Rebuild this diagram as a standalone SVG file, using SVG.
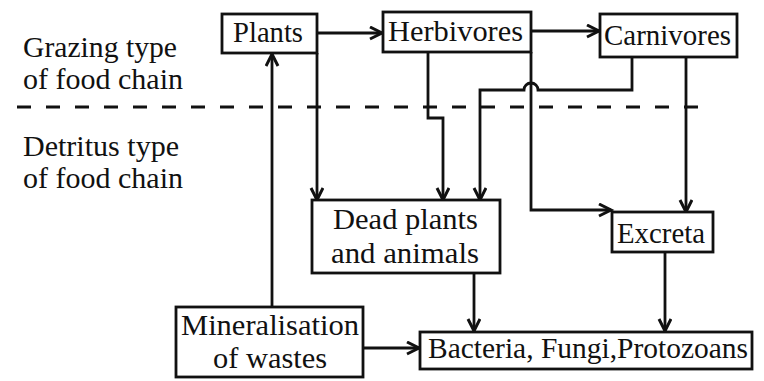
<svg xmlns="http://www.w3.org/2000/svg" width="764" height="381" viewBox="0 0 764 381">
<style>
.box{fill:#fff;stroke:#111;stroke-width:2.8}
.t{font-family:"Liberation Serif","Times New Roman",serif;font-size:29px;fill:#111}
.c{fill:none;stroke:#111;stroke-width:2.8}
.dash{fill:none;stroke:#111;stroke-width:3;stroke-dasharray:14 15}
</style>
<defs>
<marker id="ah" markerUnits="userSpaceOnUse" markerWidth="18" markerHeight="18" refX="13" refY="7" orient="auto">
<path d="M1,1 L13,7 L1,13" fill="none" stroke="#111" stroke-width="3" stroke-linejoin="miter"/>
</marker>
</defs>
<rect width="764" height="381" fill="#fff"/>
<g id="labels">
<text class="t" x="23" y="57" textLength="154" lengthAdjust="spacingAndGlyphs">Grazing type</text>
<text class="t" x="23" y="89" textLength="160" lengthAdjust="spacingAndGlyphs">of food chain</text>
<text class="t" x="23" y="156" textLength="156" lengthAdjust="spacingAndGlyphs">Detritus type</text>
<text class="t" x="23" y="188" textLength="160" lengthAdjust="spacingAndGlyphs">of food chain</text>
<line class="dash" x1="17" y1="107" x2="698" y2="107"/>
</g>
<g id="connectors">
<line class="c" x1="317" y1="33" x2="382" y2="33" marker-end="url(#ah)"/>
<line class="c" x1="531" y1="31" x2="599" y2="31" marker-end="url(#ah)"/>
<line class="c" x1="272" y1="307" x2="272" y2="54" marker-end="url(#ah)"/>
<line class="c" x1="317" y1="53" x2="317" y2="200" marker-end="url(#ah)"/>
<polyline class="c" points="428,52 428,118 443,118 443,200" marker-end="url(#ah)"/>
<path class="c" d="M632,57 L632,90 L538,90 A6,6 0 0 0 524,90 L480,90 L480,200" marker-end="url(#ah)"/>
<polyline class="c" points="531,52 531,210 611,210" marker-end="url(#ah)"/>
<line class="c" x1="686" y1="57" x2="686" y2="212" marker-end="url(#ah)"/>
<line class="c" x1="474" y1="273" x2="474" y2="331" marker-end="url(#ah)"/>
<line class="c" x1="665" y1="252" x2="665" y2="331" marker-end="url(#ah)"/>
<line class="c" x1="363" y1="348" x2="419" y2="348" marker-end="url(#ah)"/>
</g>
<g id="plants">
<rect class="box" x="222" y="14" width="95" height="39"/>
<text class="t" x="233" y="42" textLength="70" lengthAdjust="spacingAndGlyphs">Plants</text>
</g>
<g id="herbivores">
<rect class="box" x="383" y="12" width="148" height="40"/>
<text class="t" x="388" y="41" textLength="135" lengthAdjust="spacingAndGlyphs">Herbivores</text>
</g>
<g id="carnivores">
<rect class="box" x="600" y="14" width="137" height="43"/>
<text class="t" x="604" y="45" textLength="127" lengthAdjust="spacingAndGlyphs">Carnivores</text>
</g>
<g id="dead">
<rect class="box" x="312" y="200" width="188" height="73"/>
<text class="t" x="333" y="229" textLength="145" lengthAdjust="spacingAndGlyphs">Dead plants</text>
<text class="t" x="331" y="263" textLength="148" lengthAdjust="spacingAndGlyphs">and animals</text>
</g>
<g id="excreta">
<rect class="box" x="612" y="212" width="101" height="40"/>
<text class="t" x="617" y="243" textLength="88" lengthAdjust="spacingAndGlyphs">Excreta</text>
</g>
<g id="mineralisation">
<rect class="box" x="176" y="307" width="187" height="70"/>
<text class="t" x="181" y="335" textLength="178" lengthAdjust="spacingAndGlyphs">Mineralisation</text>
<text class="t" x="213" y="368" textLength="114" lengthAdjust="spacingAndGlyphs">of wastes</text>
</g>
<g id="bacteria">
<rect class="box" x="420" y="332" width="332" height="37"/>
<text class="t" x="428" y="358" textLength="320" lengthAdjust="spacingAndGlyphs">Bacteria, Fungi,Protozoans</text>
</g>
</svg>
